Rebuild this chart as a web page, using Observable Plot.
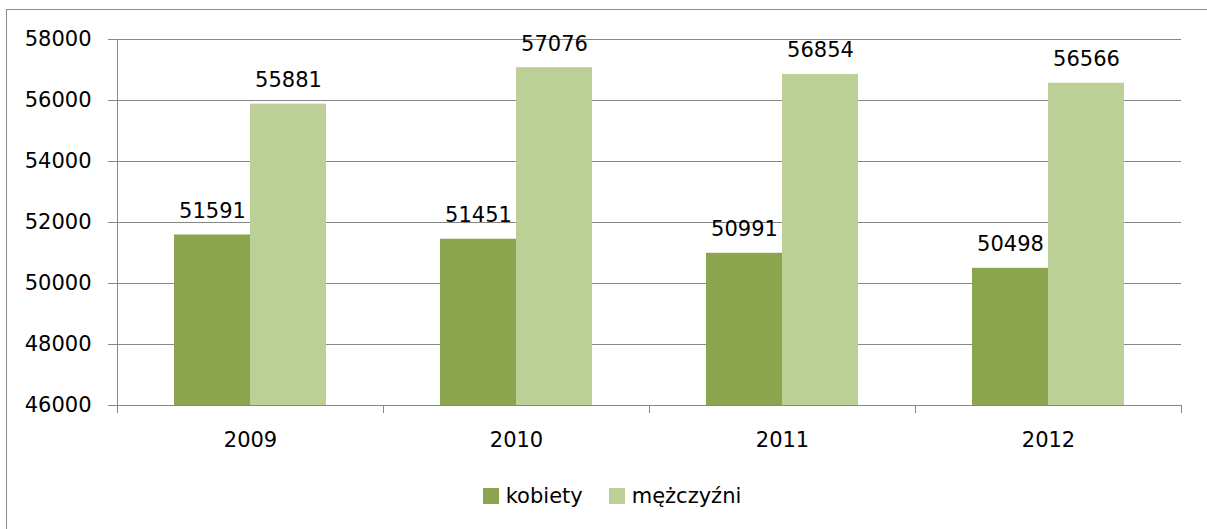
<!DOCTYPE html>
<html>
<head>
<meta charset="utf-8">
<script src="https://cdn.jsdelivr.net/npm/d3@7"></script>
<script src="https://cdn.jsdelivr.net/npm/@observablehq/plot@0.6"></script>
<style>
  html, body { margin: 0; padding: 0; background: #fff; }
  body { position: relative; width: 1207px; height: 529px; overflow: hidden; font-family: "DejaVu Sans", sans-serif; }
  #frame { position: absolute; left: 6px; top: 9px; width: 1212px; height: 600px; border: 1px solid #8c8c8c; box-sizing: border-box; }
  #chart { position: absolute; left: 0; top: 0; }
  #legend { position: absolute; left: 6px; top: 484px; width: 1212px; display: flex; justify-content: center; align-items: center; font-size: 21px; color: #000; }
  #legend .item { display: flex; align-items: center; margin: 0 13px; }
  #legend .sw { width: 16px; height: 16px; margin-right: 7px; }
</style>
</head>
<body>
<div id="frame"></div>
<div id="chart"></div>
<div id="legend"></div>
<script>
const years = ["2009", "2010", "2011", "2012"];
const series = ["kobiety", "mężczyźni"];
const kobiety = [51591, 51451, 50991, 50498];
const mezczyzni = [55881, 57076, 56854, 56566];
const yTicks = [46000, 48000, 50000, 52000, 54000, 56000, 58000];
const colors = ["#8ba54f", "#bbcf96"];
const gridColor = "#868686";

const data = years.flatMap((yr, i) => [
  {year: yr, series: series[0], value: kobiety[i]},
  {year: yr, series: series[1], value: mezczyzni[i]}
]);

const chart = Plot.plot({
  width: 1207,
  height: 470,
  marginLeft: 116,
  marginRight: 26,
  marginTop: 39,
  marginBottom: 65,
  style: {fontFamily: "DejaVu Sans", fontSize: "21px", color: "#000", background: "transparent", overflow: "visible"},
  fx: {domain: years, padding: 0, label: null},
  x: {domain: series, paddingInner: 0, paddingOuter: 0.75, axis: null},
  y: {domain: [yTicks[0], yTicks[yTicks.length - 1]], label: null},
  color: {domain: series, range: colors},
  marks: [
    Plot.gridY(yTicks, {stroke: gridColor, strokeOpacity: 1, strokeWidth: 1}),
    Plot.barY(data, {fx: "year", x: "series", y1: yTicks[0], y2: "value", fill: "series"}),
    Plot.text(data, {fx: "year", x: "series", y: "value", text: d => String(d.value), lineAnchor: "bottom", dy: -17, fill: "#000", fontSize: 21}),
    Plot.axisY(yTicks, {tickSize: 9, tickPadding: 17, stroke: gridColor, fill: "#000", tickFormat: d => String(d), label: null, fontSize: 21}),
    Plot.axisFx({anchor: "bottom", tickSize: 0, tickPadding: 27, label: null, fontSize: 21, fill: "#000"})
  ]
});
document.getElementById("chart").appendChild(chart);

// category boundary ticks and vertical axis line, from the library's scales
const fx = chart.scale("fx");
const y = chart.scale("y");
const svg = d3.select(chart);
const starts = years.map(d => fx.apply(d));
const bounds = [...starts, starts[starts.length - 1] + fx.bandwidth];
const y0 = y.apply(yTicks[0]);
const yTop = y.apply(yTicks[yTicks.length - 1]);
const g = svg.append("g").attr("stroke", gridColor).attr("stroke-width", 1);
g.append("line").attr("x1", bounds[0] + 0.5).attr("x2", bounds[0] + 0.5).attr("y1", yTop).attr("y2", y0 + 8);
bounds.forEach(b => {
  g.append("line").attr("x1", b + 0.5).attr("x2", b + 0.5).attr("y1", y0).attr("y2", y0 + 8);
});

// legend
const legend = d3.select("#legend");
series.forEach((s, i) => {
  const item = legend.append("div").attr("class", "item");
  item.append("div").attr("class", "sw").style("background", colors[i]);
  item.append("span").text(s);
});
</script>
</body>
</html>
